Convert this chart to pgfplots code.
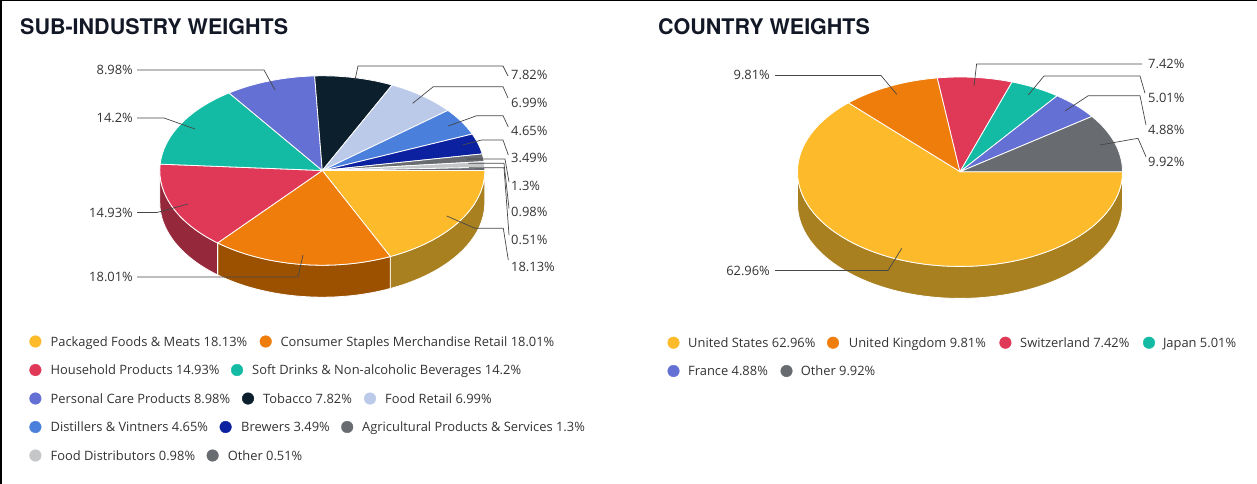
\documentclass[border=0pt]{standalone}
\usepackage{pgfplots}
\usepackage{pgfplotstable}
\pgfplotsset{compat=1.18}
\usepackage{fontspec}
\setmainfont{Open Sans}
\newfontfamily\titlefont{TeX Gyre Heros}

\definecolor{cYel}{HTML}{FDBB2C}
\definecolor{cYelD}{HTML}{A88020}
\definecolor{cOra}{HTML}{EE7D0B}
\definecolor{cOraD}{HTML}{9C5100}
\definecolor{cRed}{HTML}{DF3957}
\definecolor{cRedD}{HTML}{96283C}
\definecolor{cTea}{HTML}{13BBA4}
\definecolor{cPur}{HTML}{6470D3}
\definecolor{cBla}{HTML}{0B1F2D}
\definecolor{cLbl}{HTML}{BCCAEA}
\definecolor{cBlu}{HTML}{4A7FDB}
\definecolor{cNav}{HTML}{0C21A0}
\definecolor{cGry}{HTML}{686C71}
\definecolor{cLgr}{HTML}{C4C6C8}
\definecolor{txt}{HTML}{333333}
\definecolor{ttl}{HTML}{121826}

% sub-industry weights in %, top colour, side colour
\pgfplotstableread{
share top side
18.13 cYel cYelD
18.01 cOra cOraD
14.93 cRed cRedD
14.2  cTea cTea
8.98  cPur cPur
7.82  cBla cBla
6.99  cLbl cLbl
4.65  cBlu cBlu
3.49  cNav cNav
1.3   cGry cGry
0.98  cLgr cLgr
0.51  cGry cGry
}\subind

% country weights in %
\pgfplotstableread{
share top side
62.96 cYel cYelD
9.81  cOra cOraD
7.42  cRed cRedD
5.01  cTea cTea
4.88  cPur cPur
9.92  cGry cGry
}\country

% pie geometry (1 axis unit = 1bp)
\def\rx{162.5}\def\ry{94.7}\def\dep{32}

% #1 table, #2 centre x, #3 centre y; slices run clockwise from 3 o'clock
\newcommand\drawpie[3]{%
  \pgfplotstablegetrowsof{#1}%
  \pgfmathtruncatemacro\nlast{\pgfplotsretval-1}%
  % front wall
  \gdef\acc{0}%
  \foreach \i in {0,...,\nlast}{%
    \pgfplotstablegetelem{\i}{share}\of{#1}\let\val\pgfplotsretval
    \pgfplotstablegetelem{\i}{side}\of{#1}\let\col\pgfplotsretval
    \pgfmathsetmacro\angA{-3.6*\acc}%
    \pgfmathsetmacro\newacc{\acc+\val}\global\let\acc\newacc
    \pgfmathsetmacro\angB{max(-3.6*\acc,-180)}%
    \ifdim\angB pt<\angA pt
      \edef\tmp{\noexpand\fill[\col,draw=white,line width=0.8bp,line join=round]
        (axis cs:#2,#3) ++(\angA:\rx bp and \ry bp)
        arc[start angle=\angA,end angle=\angB,x radius=\rx bp,y radius=\ry bp]
        -- ++(0,-\dep bp)
        arc[start angle=\angB,end angle=\angA,x radius=\rx bp,y radius=\ry bp] -- cycle;}%
      \tmp
    \fi
  }%
  % top face
  \gdef\acc{0}%
  \foreach \i in {0,...,\nlast}{%
    \pgfplotstablegetelem{\i}{share}\of{#1}\let\val\pgfplotsretval
    \pgfplotstablegetelem{\i}{top}\of{#1}\let\col\pgfplotsretval
    \pgfmathsetmacro\angA{-3.6*\acc}%
    \pgfmathsetmacro\newacc{\acc+\val}\global\let\acc\newacc
    \pgfmathsetmacro\angB{-3.6*\acc}%
    \edef\tmp{\noexpand\fill[\col,draw=white,line width=0.8bp,line join=round]
      (axis cs:#2,#3) -- ++(\angA:\rx bp and \ry bp)
      arc[start angle=\angA,end angle=\angB,x radius=\rx bp,y radius=\ry bp] -- cycle;}%
    \tmp
  }%
}

\begin{document}
\begin{tikzpicture}[
    lead/.style={draw=black!72, line width=0.7bp},
    pct/.style={font=\fontsize{12.9bp}{15bp}\selectfont, text=txt, inner sep=0pt},
    leg/.style={font=\fontsize{12.9bp}{15bp}\selectfont, text=txt, inner sep=0pt, anchor=base west},
    ttlnode/.style={font=\titlefont\bfseries\fontsize{21.5bp}{26bp}\selectfont, text=ttl, inner sep=0pt, anchor=base west},
  ]
\begin{axis}[
    hide axis,
    scale only axis,
    width=1257bp, height=484bp,
    xmin=0, xmax=1257, ymin=0, ymax=484,
    y dir=reverse,
    clip=false,
  ]
  \coordinate (bl) at (0,484);
  \coordinate (tr) at (1257,0);
  \fill[black] (0,0) rectangle (1257,1.5);
  \fill[black] (0,0) rectangle (1.5,484);

  \node[ttlnode] at (20,35) {SUB-INDUSTRY WEIGHTS};
  \node[ttlnode] at (658,35) {COUNTRY WEIGHTS};

  \drawpie{\subind}{322.3}{170.5}
  \drawpie{\country}{960}{171.7}

  % leaders, sub-industry
  \draw[lead] (137,70) -- (264,70) -- (275,90);
  \draw[lead] (137,118) -- (164,118) -- (195,129);
  \draw[lead] (137,212.5) -- (157,212.5) -- (188,204);
  \draw[lead] (137,277) -- (298,277) -- (303,255);
  \draw[lead] (355,80) -- (358,66) -- (503,66) -- (508,76);
  \draw[lead] (412.7,103.3) -- (433.3,86.7) -- (503,86.7) -- (508,98);
  \draw[lead] (448.3,126) -- (476.7,115.7) -- (503,115.7) -- (508.3,127);
  \draw[lead] (462.7,145) -- (481.7,140) -- (503,140) -- (508.3,155);
  \draw[lead] (466.7,159) -- (505,159) -- (509,182);
  \draw[lead] (468.3,163.3) -- (504,163.3) -- (509,208.5);
  \draw[lead] (469,167.7) -- (504,167.7) -- (509,235);
  \draw[lead] (446.7,216) -- (475,228.3) -- (503.3,228.3) -- (508.3,260);

  \node[pct, anchor=base east] at (133,74.5) {8.98\%};
  \node[pct, anchor=base east] at (133,122.5) {14.2\%};
  \node[pct, anchor=base east] at (133,217) {14.93\%};
  \node[pct, anchor=base east] at (133,281.5) {18.01\%};
  \node[pct, anchor=base west] at (511,80) {7.82\%};
  \node[pct, anchor=base west] at (511,107.5) {6.99\%};
  \node[pct, anchor=base west] at (511,135) {4.65\%};
  \node[pct, anchor=base west] at (511,162.5) {3.49\%};
  \node[pct, anchor=base west] at (511,190) {1.3\%};
  \node[pct, anchor=base west] at (511,216.5) {0.98\%};
  \node[pct, anchor=base west] at (511,244) {0.51\%};
  \node[pct, anchor=base west] at (511,271.5) {18.13\%};

  % leaders, country
  \draw[lead] (775,75.5) -- (881,75.5) -- (896.7,94.3);
  \draw[lead] (974,86) -- (976.6,64) -- (1142,64);
  \draw[lead] (1028.3,95) -- (1044,76) -- (1140,76) -- (1145,93.3);
  \draw[lead] (1065,111) -- (1088.3,95.7) -- (1140,95.7) -- (1146,125);
  \draw[lead] (1100,145) -- (1138,138.3) -- (1146,156.7);
  \draw[lead] (775,270.5) -- (888,270.5) -- (901.8,248.3);

  \node[pct, anchor=base east] at (770,80) {9.81\%};
  \node[pct, anchor=base east] at (770,275) {62.96\%};
  \node[pct, anchor=base west] at (1148,68.5) {7.42\%};
  \node[pct, anchor=base west] at (1148,102.5) {5.01\%};
  \node[pct, anchor=base west] at (1148,134.5) {4.88\%};
  \node[pct, anchor=base west] at (1148,166.5) {9.92\%};

  % legend markers
  \addplot[only marks, mark=*, mark size=5.8bp, color=cYel] coordinates {(35.4,341.5) (673.5,342.7)};
  \addplot[only marks, mark=*, mark size=5.8bp, color=cOra] coordinates {(265.7,341.5) (833,342.7)};
  \addplot[only marks, mark=*, mark size=5.8bp, color=cRed] coordinates {(35.4,370) (1005.4,342.7)};
  \addplot[only marks, mark=*, mark size=5.8bp, color=cTea] coordinates {(237,370) (1149,342.7)};
  \addplot[only marks, mark=*, mark size=5.8bp, color=cPur] coordinates {(35.4,398.5) (673.5,371)};
  \addplot[only marks, mark=*, mark size=5.8bp, color=cBla] coordinates {(248,398.5)};
  \addplot[only marks, mark=*, mark size=5.8bp, color=cLbl] coordinates {(370,398.5)};
  \addplot[only marks, mark=*, mark size=5.8bp, color=cBlu] coordinates {(35.4,427)};
  \addplot[only marks, mark=*, mark size=5.8bp, color=cNav] coordinates {(225.6,427)};
  \addplot[only marks, mark=*, mark size=5.8bp, color=cGry] coordinates {(347.2,427) (212.6,455.5) (786.5,371)};
  \addplot[only marks, mark=*, mark size=5.8bp, color=cLgr] coordinates {(35.4,455.5)};

  % legend texts
  \node[leg] at (50.4,346) {Packaged Foods \& Meats 18.13\%};
  \node[leg] at (280.3,346) {Consumer Staples Merchandise Retail 18.01\%};
  \node[leg] at (50.4,374.5) {Household Products 14.93\%};
  \node[leg] at (252,374.5) {Soft Drinks \& Non-alcoholic Beverages 14.2\%};
  \node[leg] at (50.4,403) {Personal Care Products 8.98\%};
  \node[leg] at (263,403) {Tobacco 7.82\%};
  \node[leg] at (385,403) {Food Retail 6.99\%};
  \node[leg] at (50.4,431.5) {Distillers \& Vintners 4.65\%};
  \node[leg] at (241,431.5) {Brewers 3.49\%};
  \node[leg] at (362,431.5) {Agricultural Products \& Services 1.3\%};
  \node[leg] at (50.4,460) {Food Distributors 0.98\%};
  \node[leg] at (227.6,460) {Other 0.51\%};

  \node[leg] at (688,347.2) {United States 62.96\%};
  \node[leg] at (848.7,347.2) {United Kingdom 9.81\%};
  \node[leg] at (1020,347.2) {Switzerland 7.42\%};
  \node[leg] at (1162.8,347.2) {Japan 5.01\%};
  \node[leg] at (688,375.5) {France 4.88\%};
  \node[leg] at (800.6,375.5) {Other 9.92\%};
\end{axis}
\pgfresetboundingbox
\path (bl) rectangle (tr);
\end{tikzpicture}
\end{document}
